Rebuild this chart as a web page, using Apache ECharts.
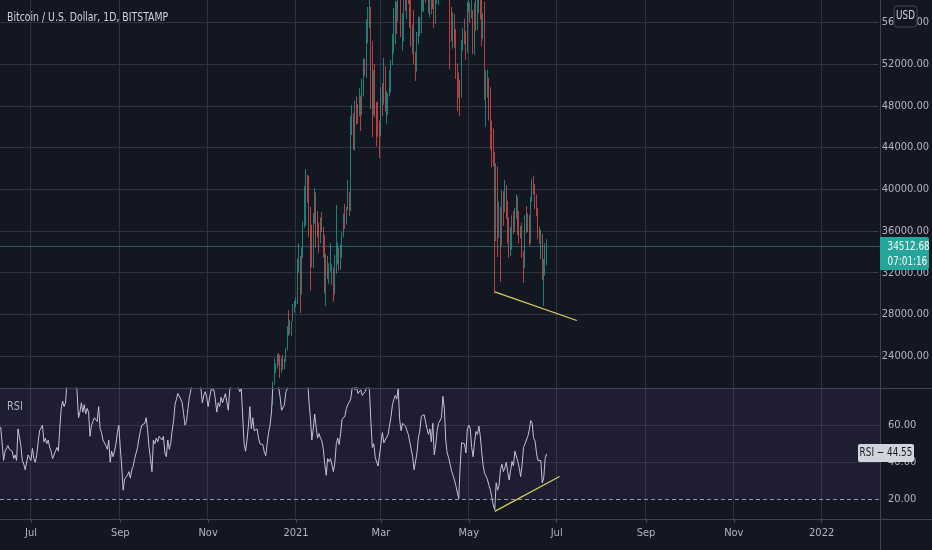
<!DOCTYPE html>
<html>
<head>
<meta charset="utf-8">
<script src="https://cdn.jsdelivr.net/npm/echarts@6/dist/echarts.min.js"></script>
<style>
  html, body { margin: 0; padding: 0; background: #131722; }
  #main { width: 932px; height: 550px; }
</style>
</head>
<body>
<div id="main"></div>
<script>
// ---- data ----
var firstDay = '2020-06-10';      // left edge of the chart
var dayCount = 611;               // days across the plot width
var candleStart = '2020-12-01';   // first candle row below
var lastPrice = 34512.68;
var countdown = '07:01:16';
var rsiLast = 44.55;

var priceTicks = [24000, 28000, 32000, 36000, 40000, 44000, 48000, 52000, 56000];
var rsiTicks = [20, 40, 60];
var monthNames = ['Jan','Feb','Mar','Apr','May','Jun','Jul','Aug','Sep','Oct','Nov','Dec'];

// [open, close, low, high], daily from candleStart
var btcOhlc = [
  [19700,18770,18170,19890],[18770,19210,18340,19310],[19210,19440,18920,19570],[19440,18690,18600,19510],
  [18690,19150,18520,19170],[19150,19360,18930,19410],[19360,19170,18900,19420],[19170,18320,18200,19290],
  [18320,18550,17620,18630],[18550,18250,17910,18560],[18250,18040,17570,18270],[18040,18800,18020,18940],
  [18800,19170,18710,19410],[19170,19270,19000,19340],[19270,19440,19050,19570],[19440,21340,19300,21560],
  [21340,22800,21220,23770],[22800,23130,22370,23270],[23130,23860,22780,24170],[23860,23480,23090,24300],
  [23480,22740,21880,24100],[22740,23820,22380,23840],[23820,23240,22670,24100],[23240,23730,22700,23780],
  [23730,24690,23440,24780],[24690,26440,24540,26870],[26440,26250,25900,28400],[26250,27040,26080,27470],
  [27040,27360,25900,27370],[27360,28880,27330,28990],[28880,28990,28150,29300],
  // Jan 2021
  [28990,29390,28700,29600],[29390,32200,29000,33300],[32200,32990,32000,34800],[32990,31990,28100,33600],
  [31990,33990,29900,34400],[33990,36800,33400,36900],[36800,39400,36300,40300],[39400,40600,36500,41950],
  [40600,40200,38700,41400],[40200,38200,35400,41300],[38200,35500,30300,38300],[35500,33900,32500,36600],
  [33900,37300,32400,37700],[37300,39200,36700,40100],[39200,36800,34400,39700],[36800,36100,35400,37900],
  [36100,35800,33900,36800],[35800,36600,34800,37300],[36600,36100,35900,37800],[36100,35500,33400,36400],
  [35500,30800,30000,35600],[30800,33000,28800,33800],[33000,32100,31400,33600],[32100,32300,30900,32900],
  [32300,32300,32100,34800],[32300,32500,30800,32800],[32500,30400,29200,32500],[30400,33400,29900,33700],
  [33400,34300,31900,38500],[34300,34300,32800,34900],[34300,33100,32200,34400],
  // Feb
  [33100,33500,32300,34700],[33500,35500,33400,35900],[35500,37600,35400,37700],[37600,36900,36200,38600],
  [36900,38300,36600,38300],[38300,39200,38000,40900],[39200,38800,37400,39700],[38800,46400,37900,47000],
  [46400,46500,45200,48100],[46500,44800,43800,47300],[44800,47900,43700,48500],[47900,47400,46200,48900],
  [47400,47200,46300,48200],[47200,48600,47000,49700],[48600,47900,45600,49000],[47900,49100,47100,50600],
  [49100,52100,48900,52600],[52100,51600,50900,52500],[51600,55900,50700,56300],[55900,55900,54000,57500],
  [55900,57400,55500,58300],[57400,54100,47700,57500],[54100,48900,45000,54200],[48900,49700,47100,51400],
  [49700,47100,46900,52000],[47100,46300,44100,48400],[46300,46100,45000,48400],[46100,45200,43000,46600],
  // Mar
  [45200,49600,45100,49800],[49600,48400,47000,50200],[48400,50400,48100,52600],[50400,48400,47500,51800],
  [48400,48800,46300,49400],[48800,48900,47100,49200],[48900,50900,48900,51400],[50900,52400,49300,52400],
  [52400,54900,51900,54900],[54900,55900,53000,57400],[55900,57800,53900,58100],[57800,57200,54900,58000],
  [57200,61200,56100,61700],[61200,59000,59000,61600],[59000,55600,54600,60600],[55600,56900,53300,56900],
  [56900,58900,54200,58900],[58900,57600,57100,60100],[57600,58300,56300,59400],[58300,58100,57800,59900],
  [58100,57400,55500,58500],[57400,54100,53700,58400],[54100,54300,53000,55800],[54300,52300,52000,57200],
  [52300,51300,50400,53200],[51300,55000,51300,55100],[55000,55800,53900,56600],[55800,55800,54700,56500],
  [55800,57600,55000,58400],[57600,58800,57100,59300],[58800,58800,57000,59800],
  // Apr
  [58800,58700,57900,59500],[58700,59000,58500,60100],[59000,57100,56900,59800],[57100,58200,56500,58500],
  [58200,59100,56800,59300],[59100,57600,57300,59500],[57600,56000,55500,58700],[56000,58100,55900,58200],
  [58100,58100,57800,58900],[58100,59800,57700,61300],[59800,59900,59200,60700],[59900,59800,59400,61200],
  [59800,63500,59800,63800],[63500,62900,61300,64800],[62900,63200,62000,63800],[63200,61400,60000,63500],
  [61400,60000,59600,62500],[60000,56200,51500,60400],[56200,55700,54200,57500],[55700,56500,53500,57000],
  [56500,53800,53600,56800],[53800,51700,50600,55400],[51700,51200,47500,52100],[51200,50100,48800,51200],
  [50100,49100,47000,50500],[49100,54000,48800,54300],[54000,55000,53300,55500],[55000,54800,53900,56400],
  [54800,53600,52400,55200],[53600,57700,53100,58000],
  // May
  [57700,57800,57000,58500],[57800,56600,56000,57900],[56600,57200,56400,58900],[57200,53200,53000,57200],
  [53200,57500,52900,57900],[57500,56400,55200,58400],[56400,57400,55300,58700],[57400,58900,56900,59500],
  [58900,58300,56300,59200],[58300,55800,53700,59600],[55800,56700,54400,56900],[56700,49500,48600,58000],
  [49500,49700,46000,51400],[49700,49900,48800,51500],[49900,46800,46600,50700],[46800,46400,43800,49800],
  [46400,43500,42100,46600],[43500,42900,42200,45800],[42900,36700,30000,43600],[36700,40600,35000,42500],
  [40600,37300,33500,42200],[37300,37500,35300,38800],[37500,34700,31100,38300],[34700,38800,34600,39900],
  [38800,38300,36500,39800],[38300,39300,37800,40900],[39300,38500,37200,40400],[38500,35700,34800,38900],
  [35700,34600,33400,37300],[34600,35700,33600,36400],[35700,37300,34200,37500],
  // Jun
  [37300,36700,35700,37900],[36700,37600,35900,38200],[37600,39200,37200,39500],[39200,36900,35600,39300],
  [36900,35500,34800,37900],[35500,35800,35300,36500],[35800,33600,33400,36800],[33600,33400,31000,34100],
  [33400,37400,32400,37500],[37400,36700,35800,38400],[36700,37300,35900,37700],[37300,35500,34600,37500],
  [35500,39000,34800,39300],[39000,40500,38800,41000],[40500,40100,39500,41300],[40100,38300,38100,40500],
  [38300,38100,37400,39500],[38100,35800,35200,38200],[35800,35500,34800,36400],[35500,35600,33300,36100],
  [35600,31600,31300,35700],[31600,32500,28800,33300],[32500,33700,31700,34800],[33700,34512.68,32700,35200]
];

// RSI(14), daily from firstDay
var rsiValues = [
  59,60,41,46,45,49,47,48,46,42,
  44,41,58,57,49,41,39,36,35,44,
  45,41,47.5,42,40,44,51,57,57,60,
  51,53,50,52,48,46,42,44,46,48,
  46,58,69,73,70,72,83,86,88,85,
  87,84,86,78,64,67,72,67,71,66,
  69,67,54,60,62,64,63,62,70,58,
  56,52,53,49,47,52,40,46,43,46,
  50,56,60,48,38,25,31,31,33,35,
  31.5,36,38,42,41,48,53,57,60,60,
  61,64,57,48,42,35,52,50,53,51,
  54,53,52,54,45,43,52,47,50,57,
  62,71,74,77,78,74,72,72,60,62,
  69,75,79,83,85,87,86,84,82,80,
  72,76,78,75,70,70,79,79,79,74,
  67,72,70,75,72,73,77,76,68,79,
  81,84,86,88,85,80,78,80,65,50,
  46,52,60,70,58,64,57,58,58,53,
  50,51,49.5,45.5,43.5,50,56,60,67,82,
  86,88,84,80,75,68,67,71,78,79.5,
  85,87,89,90,88,86,89,90,84,87,
  90,92,92,86,73,64,52,58,66,59,
  53,55.5,53,51.5,47,39,33,42,40.4,42,
  41.5,35,40,50,53,49.5,55.7,63,63.5,65,
  69,71,71,74,80,83,79,81,77,78,
  79,76,77,78,80,82,79,62,48,50,
  43,40,38,37,50,56,50.5,52,51,55,
  60,64.7,71,74,76,74,80,63,57,61,
  61,59.5,59.5,55,54,47,43,36,35,45,
  53.5,57,64.7,65.5,65.6,65,58,55,58,51,
  61,44,49,57,61,60,64,75.5,69,52,
  45,42.5,39,35.5,33,30.5,27.5,24,20.5,38,
  50.5,51,50,45,58,60,58,48,43,51,
  56.6,55,59.5,54,45,38,34,32.5,30.5,27.5,
  25,21,17,14.5,29,25,27.8,36,39,35,
  37,40,35,30.5,35.5,40.5,38,46,47,40.5,
  37,32.3,38.5,48,50,50,54,57.5,62.5,61,
  53,51.5,45,41,40.5,41,29,31.5,42,44.55
];

// drawn trend lines: [date, value]
var priceTrend = [['2021-05-19', 30150], ['2021-07-15', 27400]];
var rsiTrend = [['2021-05-19', 13.6], ['2021-07-03', 32.4]];

// ---- build ----
var FONT = "'Liberation Sans Narrow', 'DejaVu Sans Condensed', 'Roboto Condensed', 'Liberation Sans', sans-serif";
var BG = '#131722', GRID = '#2f333e', BORDER = '#434651', TEXT = '#b2b5be';
var UP = '#26a69a', DOWN = '#ef5350';

var dates = [];
var t0 = Date.parse(firstDay + 'T00:00:00Z');
for (var i = 0; i < dayCount; i++) {
    dates.push(new Date(t0 + i * 86400000).toISOString().slice(0, 10));
}
var candleOffset = dates.indexOf(candleStart);
var candleRows = btcOhlc.map(function (r, k) {
    return [dates[candleOffset + k], r[0], r[1], r[2], r[3]];
});

function isMark(idx, value) {
    var v = typeof value === 'string' ? value : dates[idx];
    return v.slice(8) === '01' && (+v.slice(5, 7)) % 2 === 1;
}
function markLabel(value) {
    var m = +value.slice(5, 7);
    return m === 1 ? value.slice(0, 4) : monthNames[m - 1];
}

var myChart = echarts.init(document.getElementById('main'));

var hiddenX = function (gi, splits) {
    return {
        type: 'category', gridIndex: gi, data: dates, boundaryGap: true,
        axisLine: {show: false}, axisTick: {show: false}, axisLabel: {show: false},
        splitLine: {show: splits, interval: isMark, lineStyle: {color: GRID, width: 1}}
    };
};

var bottomX = hiddenX(2, true);
bottomX.axisTick = {show: true, interval: isMark, alignWithLabel: true, length: 4, lineStyle: {color: BORDER}};
bottomX.axisLabel = {show: true, interval: isMark, formatter: markLabel, color: TEXT,
    fontFamily: FONT, fontSize: 11, margin: 9};

// graphic text, narrowed a little to the width of the original lettering
function label(txt, x, y, size, fill, align, sx) {
    return {type: 'text', z: 101, x: x, y: y, scaleX: sx, scaleY: 1,
        style: {text: txt, fill: fill, font: size + 'px ' + FONT,
            align: align, verticalAlign: 'middle'}};
}

var option = {
    backgroundColor: BG,
    animation: false,
    grid: [
        {left: 0, top: 0, width: 880, height: 388},          // candles
        {left: 0, top: 22.6, width: 880, height: 333.4},     // price scale 24000..56000
        {left: 0, top: 388, width: 880, height: 131},        // rsi
        {left: 0, top: 425, width: 880, height: 74.3}        // rsi scale 20..60
    ],
    xAxis: [hiddenX(0, true), hiddenX(1, false), bottomX, hiddenX(3, false)],
    yAxis: [
        {type: 'value', gridIndex: 0, min: 20924, max: 58169, show: false, splitLine: {show: false}},
        {type: 'value', gridIndex: 1, position: 'right', min: priceTicks[0],
            max: priceTicks[priceTicks.length - 1], interval: 4000,
            axisLine: {show: false},
            axisTick: {show: true, length: 4, lineStyle: {color: BORDER}},
            axisLabel: {color: TEXT, fontFamily: FONT, fontSize: 11, margin: 8,
                formatter: function (v) { return v.toFixed(2); }},
            splitLine: {show: true, lineStyle: {color: GRID}}},
        {type: 'value', gridIndex: 2, min: 9.5, max: 80, show: false, splitLine: {show: false}},
        {type: 'value', gridIndex: 3, position: 'right', min: rsiTicks[0],
            max: rsiTicks[rsiTicks.length - 1], interval: 20,
            axisLine: {show: false}, axisTick: {show: false},
            axisLabel: {color: TEXT, fontFamily: FONT, fontSize: 11, margin: 8,
                formatter: function (v) { return v.toFixed(2); }},
            splitLine: {show: true, lineStyle: {color: ['rgba(0,0,0,0)', GRID, GRID]}}}
    ],
    series: [
        {
            type: 'candlestick', xAxisIndex: 0, yAxisIndex: 0,
            data: candleRows, encode: {x: 0, y: [1, 2, 3, 4]},
            barWidth: 0.6, clip: true,
            itemStyle: {color: UP, color0: DOWN, borderColor: UP, borderColor0: DOWN,
                borderWidth: 1, opacity: 0.72},
            markLine: {
                silent: true, symbol: 'none', label: {show: false},
                lineStyle: {color: UP, width: 1, type: 'solid', opacity: 0.5},
                data: [{yAxis: lastPrice}]
            }
        },
        {
            type: 'line', xAxisIndex: 0, yAxisIndex: 0, data: priceTrend,
            symbol: 'none', silent: true, clip: false,
            lineStyle: {color: '#d9d058', width: 1.2}
        },
        {
            type: 'line', xAxisIndex: 2, yAxisIndex: 2, data: rsiValues,
            symbol: 'none', silent: true, clip: true,
            lineStyle: {color: '#c4c0d8', width: 1},
            markArea: {
                silent: true,
                itemStyle: {color: 'rgba(126,87,194,0.10)'},
                data: [[{yAxis: 20}, {yAxis: 80}]]
            },
            markLine: {
                silent: true, symbol: 'none', label: {show: false},
                lineStyle: {color: '#9598a1', width: 1, type: [4, 3]},
                data: [{yAxis: 20}]
            }
        },
        {
            type: 'line', xAxisIndex: 2, yAxisIndex: 2, data: rsiTrend,
            symbol: 'none', silent: true,
            lineStyle: {color: '#d9d058', width: 1.2}
        }
    ],
    graphic: [
        label('Bitcoin / U.S. Dollar, 1D, BITSTAMP', 7, 18, 12.5, '#d1d4dc', 'left', 0.83),
        label('RSI', 7, 407, 12, TEXT, 'left', 0.9),
        {type: 'line', z: 90, shape: {x1: 0, y1: 388.5, x2: 932, y2: 388.5}, style: {stroke: BORDER, lineWidth: 1}},
        {type: 'line', z: 90, shape: {x1: 0, y1: 519.5, x2: 932, y2: 519.5}, style: {stroke: BORDER, lineWidth: 1}},
        {type: 'line', z: 90, shape: {x1: 880.5, y1: 0, x2: 880.5, y2: 550}, style: {stroke: BORDER, lineWidth: 1}},
        {type: 'rect', z: 100, shape: {x: 894, y: 6, width: 23, height: 21, r: 3},
            style: {fill: BG, stroke: BORDER, lineWidth: 1}},
        label('USD', 905.5, 16.5, 11.5, '#d1d4dc', 'center', 0.85),
        {type: 'rect', z: 100, shape: {x: 880, y: 237, width: 49, height: 33, r: [0, 2, 2, 0]},
            style: {fill: UP}},
        label(lastPrice.toFixed(2), 887.5, 246.5, 12, '#ffffff', 'left', 0.82),
        label(countdown, 887.5, 261.5, 12, '#ffffff', 'left', 0.82),
        {type: 'rect', z: 100, shape: {x: 858, y: 444, width: 56, height: 18, r: 2},
            style: {fill: '#d1d4dc'}},
        label('RSI \u2212 ' + rsiLast.toFixed(2), 886, 453, 12, BG, 'center', 0.82)
    ]
};

myChart.setOption(option);
</script>
</body>
</html>
